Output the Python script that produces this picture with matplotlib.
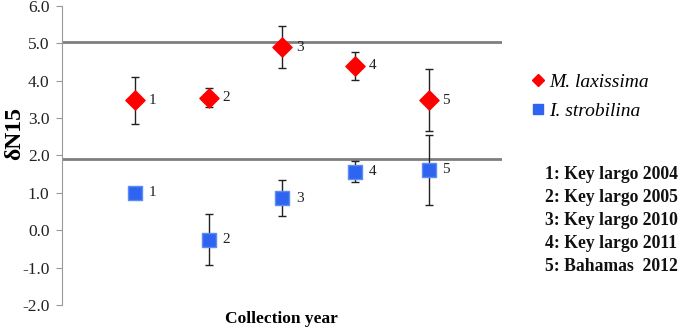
import matplotlib
matplotlib.use("Agg")
import matplotlib.pyplot as plt
import numpy as np
from matplotlib.lines import Line2D

# - Data
sites = [1, 2, 3, 4, 5]
site_names = ["1: Key largo 2004", "2: Key largo 2005", "3: Key largo 2010",
              "4: Key largo 2011", "5: Bahamas  2012"]
lax_mean = [3.48, 3.55, 4.90, 4.40, 3.48]
lax_err = [0.63, 0.26, 0.56, 0.37, 0.83]
strob_mean = [1.00, -0.25, 0.85, 1.57, 1.62]
strob_err = [0.0, 0.67, 0.48, 0.28, 0.94]
ref_lines = [5.04, 1.91]
yticks = [-2.0, -1.0, 0.0, 1.0, 2.0, 3.0, 4.0, 5.0, 6.0]

# - Plot
plt.rcParams['font.family'] = ['Liberation Serif', 'DejaVu Serif']
fig = plt.figure(figsize=(6.8, 3.3), dpi=100)
ax = fig.add_axes([0.091, 0.076, 0.647, 0.906])

red = '#ff0000'
blue = '#2f64f0'

for y in ref_lines:
    ax.axhline(y, color='#7f7f7f', lw=2, zorder=1)

ax.errorbar(sites, lax_mean, yerr=lax_err, fmt='none', ecolor='#222222',
            elinewidth=1, capsize=3, capthick=1, zorder=2)
ax.errorbar(sites, strob_mean, yerr=strob_err, fmt='none', ecolor='#222222',
            elinewidth=1, capsize=3, capthick=1, zorder=2)
ax.scatter(sites, lax_mean, marker='D', s=95, color=red, edgecolors=red, zorder=3)
ax.scatter(sites, strob_mean, marker='s', s=105, color=blue,
           edgecolors='#5b8cf7', linewidths=1, zorder=3)

# point labels
for x, y in zip(sites, lax_mean):
    ax.annotate(str(x), (x, y), xytext=(10, 0), textcoords='offset points',
                fontsize=11, va='center', color='#222222')
for x, y in zip(sites, strob_mean):
    ax.annotate(str(x), (x, y), xytext=(10, 0), textcoords='offset points',
                fontsize=11, va='center', color='#222222')

ax.set_xlim(0, 6)
ax.set_ylim(-2, 6)
ax.set_yticks(yticks)
ax.set_yticklabels([f'{t:.1f}' for t in yticks], fontsize=12.5, color='#222222')
ax.set_xticks([])
for s in ['top', 'right', 'bottom']:
    ax.spines[s].set_visible(False)
ax.spines['left'].set_color('#999999')
ax.tick_params(axis='y', colors='#999999', labelcolor='#222222', length=4, pad=5)

ax.set_ylabel('δN15', fontsize=17, fontweight='bold')
ax.yaxis.set_label_coords(-0.084, 0.572)
ax.set_xlabel('Collection year', fontsize=12.5, fontweight='bold')
ax.xaxis.set_label_coords(0.5, -0.02)

# legend
handles = [Line2D([], [], marker='D', color=red, ls='none', markersize=6),
           Line2D([], [], marker='s', color=blue, ls='none', markersize=7.5)]
leg = fig.legend(handles, ['M. laxissima', 'I. strobilina'], loc='upper left',
                 bbox_to_anchor=(0.748, 0.83), frameon=False, handletextpad=0.0,
                 handlelength=1.2, labelspacing=0.55,
                 prop={'family': 'Liberation Serif', 'style': 'italic', 'size': 14})

for i, name in enumerate(site_names):
    fig.text(0.801, 0.47 - i * 0.0697, name, fontsize=12.7, fontweight='bold',
             va='center', ha='left', color='#111111')

fig.savefig('out.png', dpi=100)
